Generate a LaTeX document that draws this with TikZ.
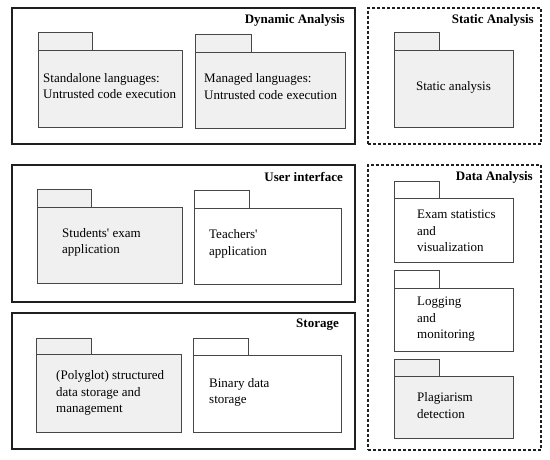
\documentclass[tikz,border=0pt]{standalone}
\usepackage{fontspec}
\setmainfont{Liberation Serif}
\usetikzlibrary{positioning}
\definecolor{pkgfill}{HTML}{F0F0F0}

\begin{document}
\begin{tikzpicture}[x=1pt,y=-1pt,
  group/.style={draw=black!88, line width=1.8pt, anchor=north west, inner sep=0pt, outer sep=0pt},
  dgroup/.style={group, dash pattern=on 3pt off 2pt},
  title/.style={font=\fontsize{13}{15}\selectfont\bfseries, inner sep=0pt, anchor=east},
  pkg/.style={draw=black!72, line width=1pt, anchor=north west, inner sep=0pt, outer sep=0pt, fill=#1},
  pkg/.default=white,
  tab/.style={pkg=#1, anchor=south west, minimum width=54pt, minimum height=18pt},
  tab/.default=white,
  pkgtext/.style={align=left, inner sep=0pt, font=\fontsize{13}{16.5}\selectfont}]
  \useasboundingbox (0,0) rectangle (550,459);
  \node[group, minimum width=343pt, minimum height=136pt] (dyn) at (12,8) {};
  \node[dgroup, minimum width=173pt, minimum height=136pt] (sta) at (368,8) {};
  \node[group, minimum width=343pt, minimum height=137pt] (ui) at (12,165) {};
  \node[dgroup, minimum width=173pt, minimum height=285pt] (dat) at (368,165) {};
  \node[group, minimum width=343pt, minimum height=136pt] (sto) at (12,313) {};
  \node[title] (dynt) at ([xshift=-10pt, yshift=-12pt]dyn.north east) {Dynamic Analysis};
  \node[title] (stat) at ([xshift=-7pt, yshift=-12pt]sta.north east) {Static Analysis};
  \node[title] (uit) at ([xshift=-12pt, yshift=-12pt]ui.north east) {User interface};
  \node[title] (datt) at ([xshift=-8pt, yshift=-12pt]dat.north east) {Data Analysis};
  \node[title] (stot) at ([xshift=-16pt, yshift=-12pt]sto.north east) {Storage};

  \node[pkg=pkgfill, minimum width=144pt, minimum height=77pt] (sa) at (38,50) {};
  \node[tab=pkgfill] (sat) at (sa.north west) {};
  \node[pkgtext, right=5pt of sa.west, anchor=west, yshift=2.5pt] (sal) {Standalone languages:\\Untrusted code execution};
  \node[pkg=pkgfill, minimum width=150pt, minimum height=76pt] (ma) at (195,52) {};
  \node[tab=pkgfill, minimum width=56pt] (mat) at (ma.north west) {};
  \node[pkgtext, right=9pt of ma.west, anchor=west, yshift=3.5pt] (mal) {Managed languages:\\Untrusted code execution};
  \node[pkg=pkgfill, minimum width=119pt, minimum height=77pt] (st) at (394,50) {};
  \node[tab=pkgfill, minimum width=45pt] (stt) at (st.north west) {};
  \node[pkgtext, yshift=1pt] (stl) at (st.center) {Static analysis};

  \node[pkg=pkgfill, minimum width=145pt, minimum height=76pt] (su) at (37,207) {};
  \node[tab=pkgfill] (sut) at (su.north west) {};
  \node[pkgtext, right=25pt of su.west, anchor=west, yshift=2.5pt] (sul) {Students\textquotesingle{} exam\\application};
  \node[pkg, minimum width=147pt, minimum height=76pt] (te) at (194,208) {};
  \node[tab, minimum width=55pt] (tet) at (te.north west) {};
  \node[pkgtext, right=15pt of te.west, anchor=west, yshift=2pt] (tel) {Teachers\textquotesingle\\application};

  \node[pkg=pkgfill, minimum width=145pt, minimum height=78pt] (po) at (36,354) {};
  \node[tab=pkgfill, minimum width=55pt, minimum height=16pt] (pot) at (po.north west) {};
  \node[pkgtext, right=20pt of po.west, anchor=west] (pol) {(Polyglot) structured\\data storage and\\management};
  \node[pkg, minimum width=148pt, minimum height=77pt] (bi) at (193,355) {};
  \node[tab, minimum width=55pt, minimum height=17pt] (bit) at (bi.north west) {};
  \node[pkgtext, right=16pt of bi.west, anchor=west, yshift=1pt] (bil) {Binary data\\storage};

  \node[pkg, minimum width=119pt, minimum height=64pt] (ex) at (394,198) {};
  \node[tab, minimum width=45pt, minimum height=17pt] (ext) at (ex.north west) {};
  \node[pkgtext, right=23pt of ex.west, anchor=west, yshift=-1pt] (exl) {Exam statistics\\and\\visualization};
  \node[pkg, minimum width=119pt, minimum height=63pt] (lo) at (394,288) {};
  \node[tab, minimum width=45pt] (lot) at (lo.north west) {};
  \node[pkgtext, right=23pt of lo.west, anchor=west] (lol) {Logging\\and\\monitoring};
  \node[pkg=pkgfill, minimum width=119pt, minimum height=62pt] (pl) at (394,376) {};
  \node[tab=pkgfill, minimum width=45pt, minimum height=17pt] (plt) at (pl.north west) {};
  \node[pkgtext, right=23pt of pl.west, anchor=west, yshift=1.5pt] (pll) {Plagiarism\\detection};
\end{tikzpicture}
\end{document}
